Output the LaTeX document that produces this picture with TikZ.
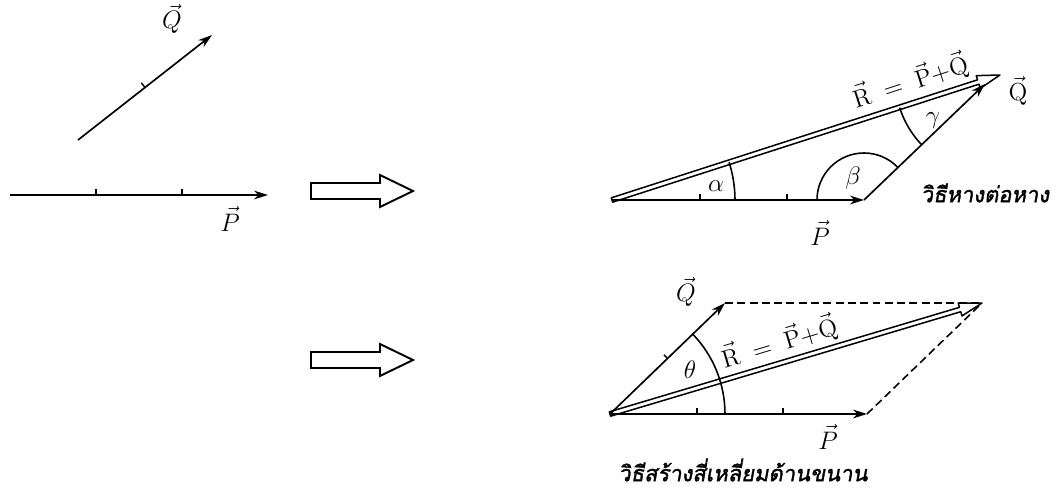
\documentclass[tikz,border=0pt]{standalone}
\usepackage{fontspec}
\newfontfamily\thaifont[Script=Thai,FakeSlant=0.18,FakeBold=1.6]{Loma}
\usetikzlibrary{calc,arrows.meta}
\newcommand{\ResultArrow}[2]{%
  \path ($(#2)!13pt!(#1)$) coordinate (hb);
  \draw[rbody] ($(#1)!1.3pt!90:(#2)$) -- ($(hb)!1.3pt!90:(#2)$) -- ($(hb)!3.8pt!90:(#2)$) -- (#2)
     -- ($(hb)!3.8pt!-90:(#2)$) -- ($(hb)!1.3pt!-90:(#2)$) -- ($(#1)!1.3pt!-90:(#2)$) -- cycle;}
\begin{document}
\begin{tikzpicture}[x=0.02cm,y=-0.02cm,
  vec/.style={line width=0.95pt,-{Stealth[length=8pt,width=5pt]}},
  tickmark/.style={line width=0.8pt},
  dashline/.style={line width=0.9pt,dash pattern=on 4.5pt off 2.5pt},
  arcline/.style={line width=0.9pt},
  rbody/.style={line width=0.85pt,line join=round},
  blockarrow/.style={line width=1.1pt,line join=miter},
  lbl/.style={font=\fontsize{14}{16}\selectfont,inner sep=1pt},
  thai/.style={font=\thaifont\fontsize{12.5}{15}\selectfont,inner sep=1pt}]
\useasboundingbox (0,0) rectangle (1063,490);

% ---------- left: the two vectors ----------
\coordinate (p0) at (10,195);
\coordinate (p1) at (268,195);
\draw[vec] (p0) -- (p1);
\draw[tickmark] ($(p0)!1/3!(p1)$) -- ++(0,-6);
\draw[tickmark] ($(p0)!2/3!(p1)$) -- ++(0,-6);
\node[lbl] (Plbl) at (230,219) {$\vec{P}$};

\coordinate (q0) at (78,140);
\coordinate (q1) at (212,35);
\draw[vec] (q0) -- (q1);
\draw[tickmark] ($(q0)!0.5!(q1)$) -- ++(-3.7,-4.7);
\node[lbl] (Qlbl) at (172,19) {$\vec{Q}$};

% ---------- block arrows ----------
\draw[blockarrow,shift={(311,191)}] (0,-8) -- (69,-8) -- (69,-16) -- (102,0) -- (69,16) -- (69,8) -- (0,8) -- cycle;
\draw[blockarrow,shift={(311,360)}] (0,-8) -- (69,-8) -- (69,-16) -- (102,0) -- (69,16) -- (69,8) -- (0,8) -- cycle;

% ---------- top right: tip to tail ----------
\coordinate (O1) at (612,200);
\coordinate (A1) at (864,200);
\coordinate (B1) at (985,84);
\coordinate (R1) at (1000,75);
\coordinate (V1) at (992,78);
\draw[arcline] ($(O1)+(123,0)$) arc[start angle=0,end angle=-17.86,radius=123];
\draw[arcline] ($(A1)+(-47,0)$) arc[start angle=180,end angle=316.7,radius=47];
\draw[arcline] ($(V1)+(136.8:97)$) arc[start angle=136.8,end angle=162.2,radius=97];
\draw[vec] (O1) -- (A1);
\draw[tickmark] ($(O1)+(88,0)$) -- ++(0,-6);
\draw[tickmark] ($(O1)+(175,0)$) -- ++(0,-6);
\draw[vec] (A1) -- (B1);
\ResultArrow{O1}{R1}
\node[lbl] (alpha1) at (716,186) {$\alpha$};
\node[lbl] (beta1) at (853,178) {$\beta$};
\node[lbl] (gamma1) at (933,121) {$\gamma$};
\node[lbl] (P1lbl) at (820,233) {$\vec{P}$};
\node[lbl] (Q1lbl) at (1018,91) {$\vec{\mathrm{Q}}$};
\node[lbl,rotate=17.9] (R1lbl) at (910,81) {$\vec{\mathrm{R}}\;=\;\vec{\mathrm{P}}{+}\vec{\mathrm{Q}}$};
\node[thai] (tt1) at (985,193) {วิธีหางต่อหาง};

% ---------- bottom right: parallelogram ----------
\coordinate (O2) at (610,414);
\coordinate (A2) at (867,414);
\coordinate (C2) at (725,303);
\coordinate (D2) at (982,303);
\draw[dashline] (C2) -- (D2);
\draw[dashline] (A2) -- (D2);
\draw[arcline] ($(O2)+(115,0)$) arc[start angle=0,end angle=-44,radius=115];
\draw[vec] (O2) -- (A2);
\draw[tickmark] ($(O2)+(87,0)$) -- ++(0,-6);
\draw[tickmark] ($(O2)+(173,0)$) -- ++(0,-6);
\draw[vec] (O2) -- (C2);
\draw[tickmark] ($(O2)!0.5!(C2)$) -- ++(-3.5,-3.6);
\ResultArrow{O2}{D2}
\node[lbl] (theta2) at (690,370) {$\theta$};
\node[lbl] (Q2lbl) at (686,292) {$\vec{Q}$};
\node[lbl] (P2lbl) at (828,437) {$\vec{P}$};
\node[lbl,rotate=16.6] (R2lbl) at (779,342) {$\vec{\mathrm{R}}\;=\;\vec{\mathrm{P}}{+}\vec{\mathrm{Q}}$};
\node[thai] (tt2) at (743,470) {วิธีสร้างสี่เหลี่ยมด้านขนาน};
\end{tikzpicture}
\end{document}
